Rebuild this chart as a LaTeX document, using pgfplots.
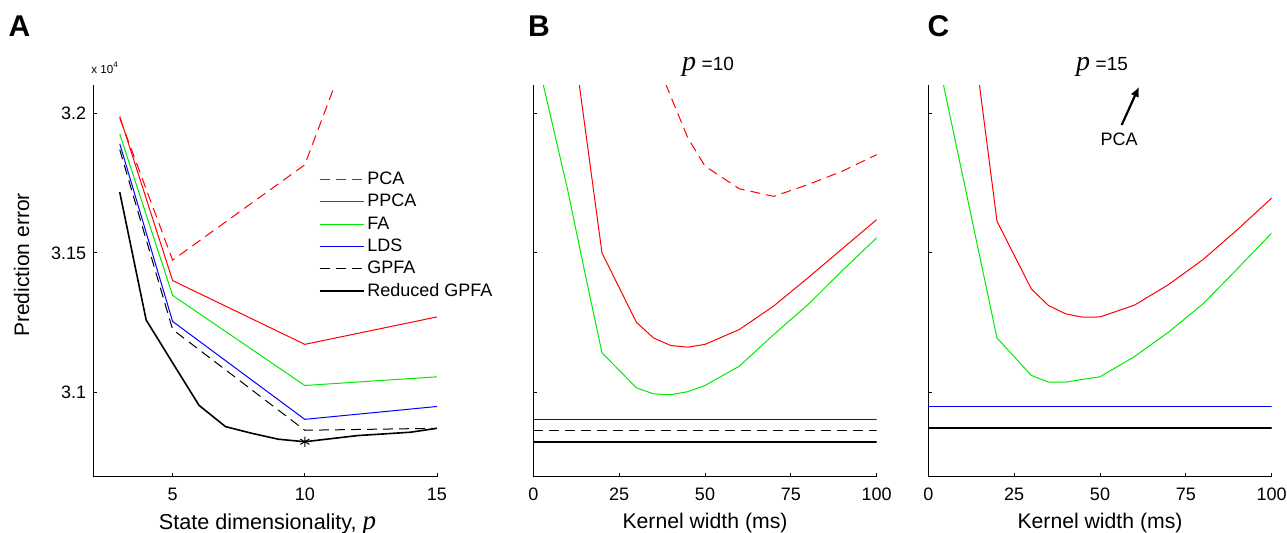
\documentclass[border=0pt]{standalone}
\usepackage{pgfplots}
\pgfplotsset{compat=1.18}
\usepackage{fontspec}
\setmainfont{Liberation Sans}
\newfontfamily\serif{Liberation Serif}
\usetikzlibrary{arrows.meta}
\definecolor{mred}{RGB}{255,0,0}
\definecolor{mgreen}{RGB}{0,235,0}
\definecolor{mblue}{RGB}{0,0,255}
\pgfplotsset{
  panel/.style={
    scale only axis,
    height=195.85pt,
    anchor=south west,
    axis x line=bottom, axis y line=left,
    axis line style={-, line width=0.45pt},
    tick align=inside,
    major tick length=1.8pt,
    every tick/.style={black, line width=0.45pt},
    ymin=3.07, ymax=3.21,
    ytick={3.1,3.15,3.2},
    tick label style={font=\fontsize{9}{10}\selectfont},
    xticklabel style={yshift=-2pt},
    clip=true,
  },
  pca/.style={mred, line width=0.5pt, dash pattern=on 5pt off 3pt},
  ppca/.style={mred, line width=0.5pt},
  fa/.style={mgreen, line width=0.5pt},
  lds/.style={mblue, line width=0.5pt},
  gpfa/.style={black, line width=0.5pt, dash pattern=on 5pt off 3pt},
  rgpfa/.style={black, line width=0.8pt},
}
\begin{document}
\begin{tikzpicture}
\useasboundingbox (0pt,0pt) rectangle (643.5pt,266pt);
% ---------------- Panel A ----------------
\begin{axis}[panel,
  at={(46.65pt,27.65pt)}, width=171.85pt,
  xmin=2, xmax=15,
  xtick={5,10,15}, xticklabels={5,10,15},
  yticklabels={3.1,3.15,3.2},
  legend image code/.code={\draw[#1] (0pt,0pt) -- (22pt,0pt);},
  legend cell align=left,
  legend style={draw=none, fill=none, font=\fontsize{9}{10}\selectfont,
    at={(axis description cs:0.655,0.6165)}, anchor=west,
    inner sep=0pt, row sep=3.2pt,
    nodes={inner xsep=1.5pt, inner ysep=0pt, text height=6.5pt, text depth=1.5pt}},
]
\addplot[pca] coordinates {(3,3.1982) (5,3.1474) (10,3.1815) (15,3.307)};
\addlegendentry{PCA}
\addplot[ppca] coordinates {(3,3.1988) (5,3.1401) (10,3.1173) (15,3.1271)};
\addlegendentry{PPCA}
\addplot[fa] coordinates {(3,3.1925) (5,3.1348) (10,3.1026) (15,3.1057)};
\addlegendentry{FA}
\addplot[lds] coordinates {(3,3.1890) (5,3.1255) (10,3.0905) (15,3.0951)};
\addlegendentry{LDS}
\addplot[gpfa] coordinates {(3,3.1869) (5,3.1226) (10,3.0866) (15,3.0873)};
\addlegendentry{GPFA}
\addplot[rgpfa] coordinates {(3,3.1717) (4,3.1260) (5,3.1107) (6,3.0955) (7,3.0879) (8,3.0855) (9,3.0834) (10,3.0825) (11,3.0836) (12,3.0847) (13,3.0853) (14,3.0859) (15,3.0873)};
\addlegendentry{Reduced GPFA}
\addplot[forget plot, only marks, mark=asterisk, mark size=2.6pt, mark options={black, line width=0.5pt}] coordinates {(10,3.0825)};
\end{axis}
% ---------------- Panel B ----------------
\begin{axis}[panel,
  at={(266.65pt,27.65pt)}, width=171.7pt,
  xmin=0, xmax=100,
  xtick={0,25,50,75,100}, xticklabels={0,25,50,75,100},
  yticklabels={},
]
\addplot[pca] coordinates {(35,3.221) (40,3.206) (45,3.1911) (50,3.181) (60,3.1729) (70,3.1702) (80,3.1744) (90,3.1792) (100,3.1851)};
\addplot[ppca] coordinates {(10,3.241) (15,3.1955) (20,3.150) (30,3.1252) (35,3.1196) (40,3.1169) (45,3.1163) (50,3.1173) (60,3.1226) (70,3.1310) (80,3.1411) (90,3.1515) (100,3.1619)};
\addplot[fa] coordinates {(0,3.2255) (5,3.199) (10,3.1725) (15,3.143) (20,3.1143) (30,3.1018) (35,3.0996) (40,3.0993) (45,3.1004) (50,3.1026) (60,3.1095) (70,3.1208) (80,3.1315) (90,3.1437) (100,3.1554)};
\addplot[lds] coordinates {(0,3.0905) (100,3.0905)};
\addplot[gpfa] coordinates {(0,3.0866) (100,3.0866)};
\addplot[rgpfa] coordinates {(0,3.0825) (100,3.0825)};
\end{axis}
% ---------------- Panel C ----------------
\begin{axis}[panel,
  at={(464.15pt,27.65pt)}, width=171.7pt,
  xmin=0, xmax=100,
  xtick={0,25,50,75,100}, xticklabels={0,25,50,75,100},
  yticklabels={},
]
\addplot[ppca] coordinates {(10,3.257) (15,3.209) (20,3.1613) (30,3.1371) (35,3.1312) (40,3.1282) (45,3.1270) (50,3.1271) (60,3.1313) (70,3.1387) (80,3.1476) (90,3.1583) (100,3.1696)};
\addplot[fa] coordinates {(0,3.236) (5,3.2066) (10,3.1776) (15,3.1486) (20,3.1196) (30,3.1062) (35,3.1038) (40,3.1038) (45,3.1048) (50,3.1057) (60,3.1129) (70,3.1217) (80,3.1318) (90,3.1443) (100,3.1571)};
\addplot[lds] coordinates {(0,3.0951) (100,3.0951)};
\addplot[gpfa] coordinates {(0,3.0874) (100,3.0874)};
\addplot[rgpfa] coordinates {(0,3.0874) (100,3.0874)};
\end{axis}
% ---------------- Text ----------------
\node[anchor=base west, inner sep=0pt] at (4.15pt,248pt) {\bfseries\fontsize{15}{15}\selectfont A};
\node[anchor=base west, inner sep=0pt] at (263.8pt,248pt) {\bfseries\fontsize{15}{15}\selectfont B};
\node[anchor=base west, inner sep=0pt] at (463.6pt,248pt) {\bfseries\fontsize{15}{15}\selectfont C};
\node[anchor=base west, inner sep=0pt] at (45.5pt,229.3pt) {\fontsize{5.8}{6}\selectfont x 10\raisebox{0.9ex}{\fontsize{4}{4}\selectfont 4}};
\node[rotate=90, inner sep=0pt] at (10.85pt,133.5pt) {\fontsize{10.5}{11}\selectfont Prediction error};
\node[anchor=base, inner sep=0pt] at (133.75pt,1.5pt) {\fontsize{10.8}{11}\selectfont State dimensionality, {\serif\itshape\fontsize{13.5}{14}\selectfont p}};
\node[anchor=base, inner sep=0pt] at (352.5pt,1.85pt) {\fontsize{10.6}{11}\selectfont Kernel width (ms)};
\node[anchor=base, inner sep=0pt] at (550pt,1.85pt) {\fontsize{10.6}{11}\selectfont Kernel width (ms)};
\node[anchor=base, inner sep=0pt] at (354pt,231pt) {{\serif\itshape\fontsize{14}{14}\selectfont p} \fontsize{9.5}{10}\selectfont =10};
\node[anchor=base, inner sep=0pt] at (551pt,231pt) {{\serif\itshape\fontsize{14}{14}\selectfont p} \fontsize{9.5}{10}\selectfont =15};
\draw[line width=1.1pt, -{Latex[length=5pt,width=4.5pt]}] (560.85pt,203.5pt) -- (569.5pt,222.65pt);
\node[inner sep=0pt] at (559.5pt,196.35pt) {\fontsize{9}{10}\selectfont PCA};
\end{tikzpicture}
\end{document}
